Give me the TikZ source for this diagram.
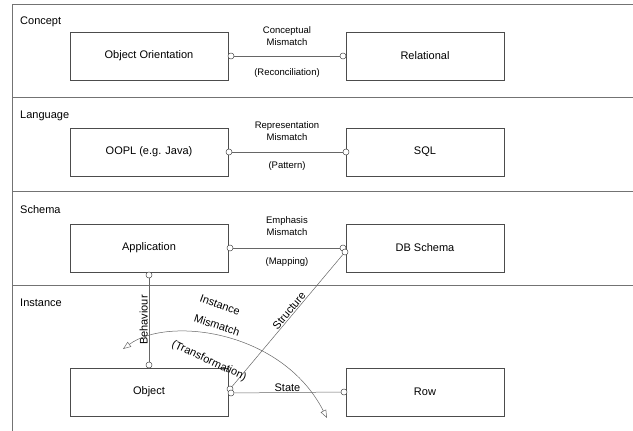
\documentclass[tikz,border=0pt]{standalone}
\usepackage{fontspec}
\setmainfont{Liberation Sans}
\usetikzlibrary{arrows.meta}
\begin{document}
\begin{tikzpicture}[x=1pt,y=-1pt,
  band/.style={draw=black!55,line width=0.7pt},
  box/.style={draw=black!70,line width=0.6pt,minimum width=158pt,minimum height=48pt,inner sep=0pt,font=\fontsize{11}{13}\selectfont},
  port/.style={circle,draw=black!70,fill=white,line width=0.5pt,minimum size=6pt,inner sep=0pt},
  conn/.style={draw=black!60,line width=0.5pt},
  lbl/.style={font=\fontsize{9.5}{11.5}\selectfont,align=center,inner sep=0pt},
  biglbl/.style={font=\fontsize{11}{13}\selectfont,inner sep=1pt},
  layer/.style={font=\fontsize{11}{13}\selectfont,anchor=west,inner sep=0pt}]
\useasboundingbox (0,0) rectangle (633,431);
% bands
\draw[band] (633,4) -- (12,4) -- (12,431);
\draw[band] (12,97) -- (633,97);
\draw[band] (12,191) -- (633,191);
\draw[band] (12,285) -- (633,285);
\node[layer] (lc) at (20,22) {Concept};
\node[layer] (ll) at (20,116) {Language};
\node[layer] (ls) at (20,210) {Schema};
\node[layer] (li) at (20,303) {Instance};
% boxes
\node[box] (oo) at (149,56) {Object Orientation};
\node[box] (rel) at (425,56) {Relational};
\node[box] (oopl) at (149,152) {OOPL (e.g. Java)};
\node[box] (sql) at (425,152) {SQL};
\node[box] (app) at (149,248) {Application};
\node[box] (dbs) at (425,248) {DB Schema};
\node[box] (obj) at (149,392) {Object};
\node[box] (row) at (425,392) {Row};
% concept
\node[port] (p1) at (231,56) {};
\node[port] (p2) at (343,56) {};
\draw[conn] (p1) -- (p2);
\node[lbl] (t1) at (287,36) {Conceptual\\Mismatch};
\node[lbl] (t1b) at (287,73) {(Reconciliation)};
% language
\node[port] (p3) at (229,152) {};
\node[port] (p4) at (346,152) {};
\draw[conn] (p3) -- (p4);
\node[lbl] (t2) at (287,131) {Representation\\Mismatch};
\node[lbl] (t2b) at (287,166) {(Pattern)};
% schema
\node[port] (p5) at (230,248) {};
\node[port] (p6) at (343,248) {};
\draw[conn] (p5) -- (p6);
\node[lbl] (t3) at (287,226) {Emphasis\\Mismatch};
\node[lbl] (t3b) at (287,262) {(Mapping)};
% behaviour
\node[port] (b1) at (149,275) {};
\node[port] (b2) at (149,365) {};
\draw[conn] (b2) -- node[biglbl,sloped,above,pos=0.5] (tb) {Behaviour} (b1);
% structure
\node[port] (s1) at (345,252) {};
\node[port] (s2) at (230,389) {};
\draw[conn] (s2) -- node[biglbl,sloped,above,pos=0.55] (ts) {Structure} (s1);
% state
\node[port] (st1) at (231,393) {};
\node[port] (st2) at (344,392) {};
\draw[conn] (st1) -- node[biglbl,above,pos=0.5] (tst) {State} (st2);
% instance mismatch arc
\coordinate (a1) at (123,349);
\coordinate (a2) at (327,418);
\draw[conn,{Triangle[open,length=8pt,width=6pt]}-{Triangle[open,length=8pt,width=6pt]}] (a1) .. controls (168,316) and (282,330) .. (a2);
\node[biglbl,rotate=-20] (ti1) at (220,305) {Instance};
\node[biglbl,rotate=-18] (ti2) at (217,325) {Mismatch};
\node[biglbl,rotate=-25] (ti3) at (209,361) {(Transformation)};
\end{tikzpicture}
\end{document}
